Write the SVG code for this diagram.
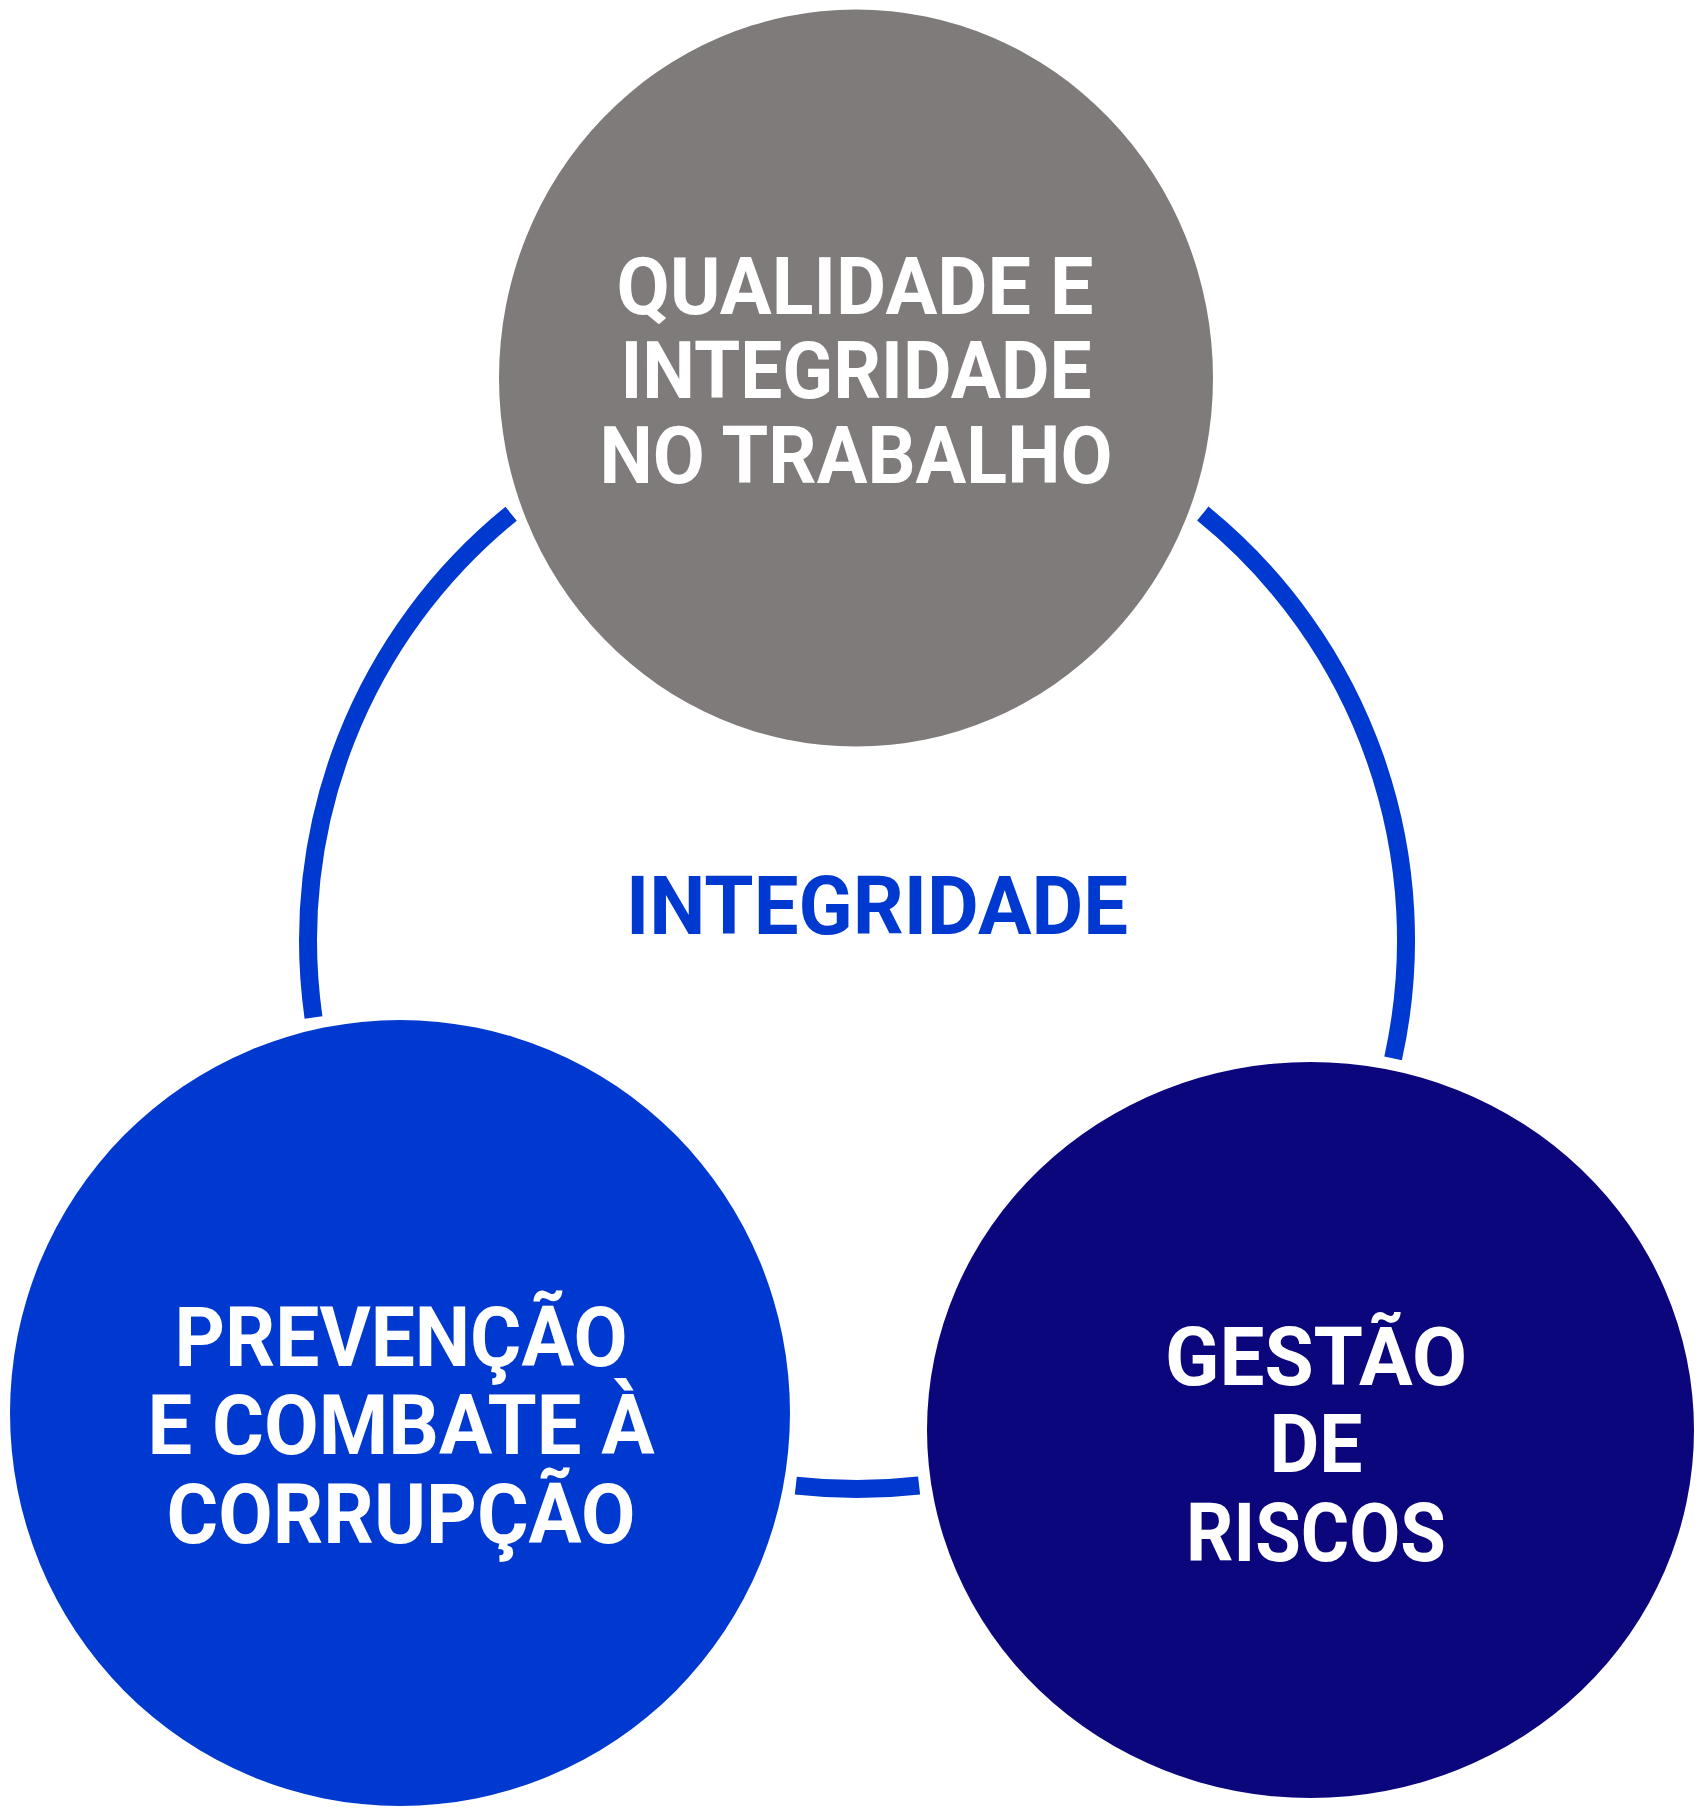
<svg xmlns="http://www.w3.org/2000/svg" width="1705" height="1818" viewBox="0 0 1705 1818">
  <style>
    .ring { fill: none; stroke: #0039cf; stroke-width: 18; stroke-linecap: butt; }
    .lbl { font-family: Roboto, "Liberation Sans", sans-serif; font-weight: 700; fill: #ffffff; text-anchor: middle; }
    .center { font-family: Roboto, "Liberation Sans", sans-serif; font-weight: 700; fill: #0039cf; text-anchor: middle; }
  </style>
  <rect x="0" y="0" width="1705" height="1818" fill="#ffffff"/>
  <g id="connectors">
    <path class="ring" d="M 511.1 513.7 A 549 549 0 0 0 313.5 1017.4"/>
    <path class="ring" d="M 795.8 1485.6 A 549 549 0 0 0 919.1 1485.5"/>
    <path class="ring" d="M 1393.1 1058.4 A 549 549 0 0 0 1202.8 513.6"/>
  </g>
  <g id="center-label">
    <text class="center" x="877" y="934" font-size="82" textLength="502" lengthAdjust="spacingAndGlyphs">INTEGRIDADE</text>
  </g>
  <g id="node-qualidade">
    <ellipse cx="856" cy="378" rx="357" ry="368.5" fill="#7f7b7a"/>
    <text class="lbl" font-size="80" x="855" y="314" textLength="477" lengthAdjust="spacingAndGlyphs">QUALIDADE E</text>
    <text class="lbl" font-size="80" x="856" y="398" textLength="471" lengthAdjust="spacingAndGlyphs">INTEGRIDADE</text>
    <text class="lbl" font-size="80" x="856" y="483" textLength="513" lengthAdjust="spacingAndGlyphs">NO TRABALHO</text>
  </g>
  <g id="node-prevencao">
    <ellipse cx="400" cy="1413" rx="390" ry="393" fill="#0039cf"/>
    <text class="lbl" font-size="83" x="401" y="1366" textLength="453" lengthAdjust="spacingAndGlyphs">PREVENÇÃO</text>
    <text class="lbl" font-size="83" x="401" y="1454" textLength="507" lengthAdjust="spacingAndGlyphs">E COMBATE À</text>
    <text class="lbl" font-size="83" x="401" y="1543" textLength="469" lengthAdjust="spacingAndGlyphs">CORRUPÇÃO</text>
  </g>
  <g id="node-gestao">
    <ellipse cx="1310.5" cy="1430" rx="383.5" ry="368" fill="#0b067c"/>
    <text class="lbl" font-size="82" x="1316" y="1385" textLength="302" lengthAdjust="spacingAndGlyphs">GESTÃO</text>
    <text class="lbl" font-size="82" x="1316" y="1472" textLength="93" lengthAdjust="spacingAndGlyphs">DE</text>
    <text class="lbl" font-size="82" x="1316" y="1561" textLength="260" lengthAdjust="spacingAndGlyphs">RISCOS</text>
  </g>
</svg>
